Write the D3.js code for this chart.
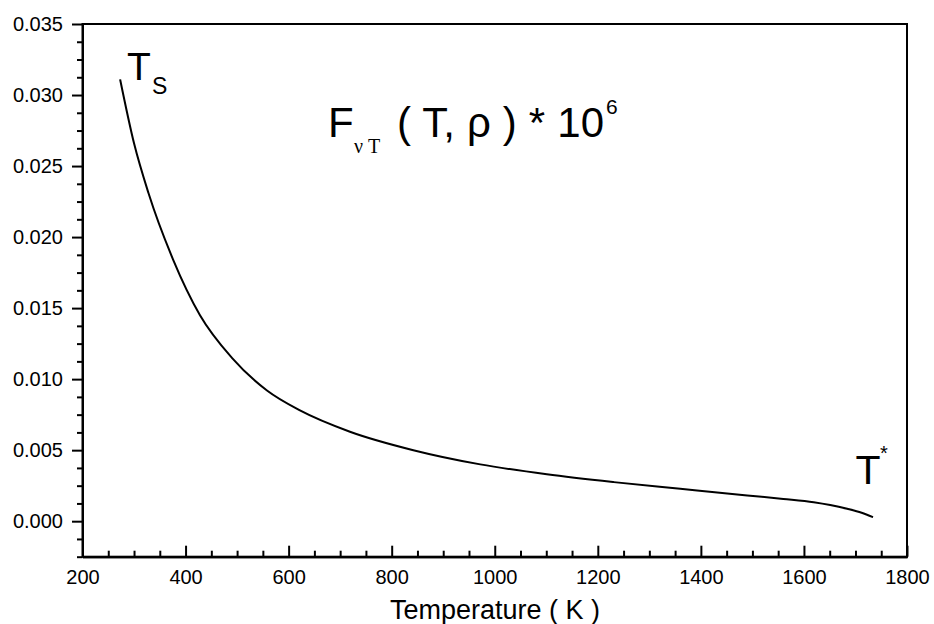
<!DOCTYPE html>
<html><head><meta charset="utf-8">
<script src="https://cdn.jsdelivr.net/npm/d3@7"></script>
<style>
html,body{margin:0;padding:0;background:#fff;}
svg{display:block;font-family:"Liberation Sans",Arial,sans-serif;}
</style></head>
<body>
<svg id="chart" width="934" height="624"></svg>
<script>
// Data
const temperature = [273, 300, 328, 376, 428, 490, 558, 622, 719, 842, 972, 1101, 1231, 1360, 1490, 1560, 1619, 1651, 1684, 1712, 1734];
const fValue = [0.0311, 0.0266, 0.0231, 0.0184, 0.0145, 0.0115, 0.0092, 0.0078, 0.0063, 0.0050, 0.0040, 0.0033, 0.00275, 0.00228, 0.00181, 0.00157, 0.00134, 0.00114, 0.00087, 0.00059, 0.00028];
const xMajorTicks = [200, 400, 600, 800, 1000, 1200, 1400, 1600, 1800];
const xMinorTicks = [250, 300, 350, 450, 500, 550, 650, 700, 750, 850, 900, 950, 1050, 1100, 1150, 1250, 1300, 1350, 1450, 1500, 1550, 1650, 1700, 1750];
const yMajorTicks = [0.000, 0.005, 0.010, 0.015, 0.020, 0.025, 0.030, 0.035];
const yMinorTicks = [-0.0025, -0.00125, 0.00125, 0.0025, 0.00375, 0.00625, 0.0075, 0.00875, 0.01125, 0.0125, 0.01375, 0.01625, 0.0175, 0.01875, 0.02125, 0.0225, 0.02375, 0.02625, 0.0275, 0.02875, 0.03125, 0.0325, 0.03375];
const xLabel = "Temperature ( K )";

const svg = d3.select("#chart");
const mLeft = 82.5, mRight = 907, mTop = 24, mBottom = 556.7;
const x = d3.scaleLinear().domain([200, 1800]).range([mLeft, mRight]);
const y = d3.scaleLinear().domain([-0.0025, 0.035]).range([mBottom, mTop]);

// Frame
svg.append("rect").attr("x", mLeft).attr("y", mTop).attr("width", mRight - mLeft).attr("height", mBottom - mTop)
  .attr("fill", "none").attr("stroke", "#000").attr("stroke-width", 2);

// X axis (ticks pointing inward)
svg.append("g").attr("transform", `translate(0,${mBottom})`)
  .call(d3.axisBottom(x).tickValues(xMajorTicks).tickSize(-11).tickSizeOuter(0).tickPadding(13).tickFormat(d3.format("d")));
svg.append("g").attr("transform", `translate(0,${mBottom})`)
  .call(d3.axisBottom(x).tickValues(xMinorTicks).tickSize(-6).tickSizeOuter(0).tickFormat(""));

// Y axis (ticks pointing outward)
svg.append("g").attr("transform", `translate(${mLeft},0)`)
  .call(d3.axisLeft(y).tickValues(yMajorTicks).tickSize(10.5).tickSizeOuter(0).tickPadding(9).tickFormat(d3.format(".3f")));
svg.append("g").attr("transform", `translate(${mLeft},0)`)
  .call(d3.axisLeft(y).tickValues(yMinorTicks).tickSize(5.5).tickSizeOuter(0).tickFormat(""));

svg.selectAll(".domain").attr("stroke", "#000").attr("stroke-width", 2);
svg.selectAll(".tick line").attr("stroke", "#000").attr("stroke-width", 2);
svg.selectAll(".tick text").attr("font-size", 20).attr("font-family", "Liberation Sans, Arial, sans-serif").attr("fill", "#000");

// Curve
const line = d3.line().x((d, i) => x(temperature[i])).y(d => y(d)).curve(d3.curveMonotoneX);
svg.append("path").datum(fValue).attr("d", line).attr("fill", "none").attr("stroke", "#000").attr("stroke-width", 2);

// Axis title
svg.append("text").attr("x", 495).attr("y", 619).attr("text-anchor", "middle").attr("font-size", 27).text(xLabel);

// T_S label
svg.append("text").attr("x", 127).attr("y", 80).attr("font-size", 39).text("T");
svg.append("text").attr("x", 152).attr("y", 94).attr("font-size", 23).text("S");

// T* label
svg.append("text").attr("x", 855.5).attr("y", 484).attr("font-size", 41).text("T");
svg.append("text").attr("x", 880).attr("y", 460).attr("font-size", 20).text("*");

// Title F_{νT}(T, ρ) * 10^6
svg.append("text").attr("x", 328).attr("y", 137).attr("font-size", 42).text("F");
svg.append("text").attr("x", 354).attr("y", 153).attr("font-size", 20).attr("font-family", "Liberation Serif, Times New Roman, serif").text("ν T");
svg.append("text").attr("x", 397).attr("y", 137).attr("font-size", 42).attr("textLength", 207).text("( T, ρ ) * 10");
svg.append("text").attr("x", 606).attr("y", 114).attr("font-size", 21).text("6");
</script>
</body></html>
